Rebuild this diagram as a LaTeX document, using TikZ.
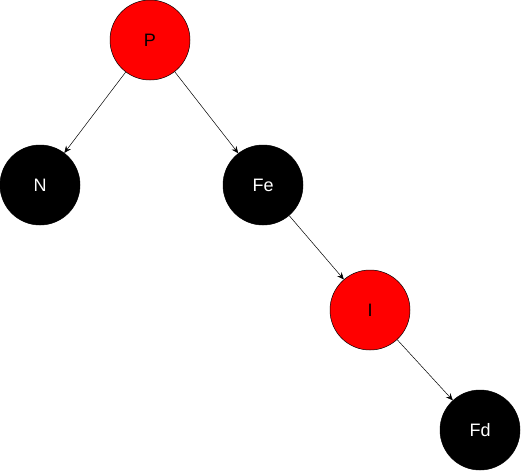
\documentclass[tikz,border=0pt]{standalone}
\usepackage{fontspec}
\setmainfont{Liberation Sans}
\usetikzlibrary{arrows.meta}

\begin{document}
\begin{tikzpicture}[x=1pt, y=-1pt, font=\fontsize{18}{21}\selectfont,
    link/.style={-{Stealth[length=7pt, width=6pt, inset=2.5pt]}, line width=0.5pt},
    rednode/.style={circle, draw=black, line width=0.5pt, fill=red,
                    minimum size=80pt, inner sep=0pt, text=black},
    blacknode/.style={circle, draw=black, line width=0.5pt, fill=black,
                      minimum size=80pt, inner sep=0pt, text=white}]

    \useasboundingbox (0,0) rectangle (521,471);

    \node[rednode]   (p)  at (150,40)  {P};
    \node[blacknode] (n)  at (40,185)  {N};
    \node[blacknode] (fe) at (263,185) {Fe};
    \node[rednode]   (i)  at (370,310) {I};
    \node[blacknode] (fd) at (480,430) {Fd};

    \draw[link] (p) -- (n);
    \draw[link] (p) -- (fe);
    \draw[link] (fe) -- (i);
    \draw[link] (i) -- (fd);
  \end{tikzpicture}
\end{document}
